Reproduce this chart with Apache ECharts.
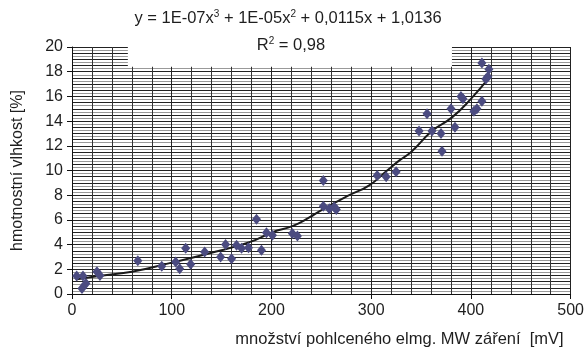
<!DOCTYPE html>
<html>
<head>
<meta charset="utf-8">
<script src="https://cdn.jsdelivr.net/npm/echarts@6/dist/echarts.min.js"></script>
<style>
  html, body { margin: 0; padding: 0; background: #fff; }
  #chart { width: 587px; height: 356px; }
</style>
</head>
<body>
<div id="chart"></div>
<script>
// měřené body
var measX = [4.7, 11, 10, 14, 25, 28, 66, 90, 104, 108, 114, 119, 133, 149, 154, 160, 165, 170, 177, 185, 190, 195, 201, 221, 226,
             252, 252, 258, 263, 265, 306, 315, 325,
             348, 356, 361, 370, 371, 380, 384, 390, 392, 403, 406, 411, 411, 418, 415, 417];
var measY = [1.45, 1.45, 0.45, 0.85, 1.8, 1.5, 2.7, 2.25, 2.6, 2.05, 3.7, 2.4, 3.4, 3.0, 4.0, 2.85, 3.95, 3.7, 3.75, 6.05, 3.55, 4.95, 4.75, 4.9, 4.7,
             9.2, 7.1, 6.9, 7.05, 6.85, 9.6, 9.5, 9.9,
             13.2, 14.6, 13.2, 13.0, 11.55, 15.0, 13.5, 16.0, 15.8, 14.8, 15.0, 15.6, 18.7, 18.2, 17.4, 17.6];
// spojnice trendu
var trendX = [5, 31, 60, 98, 138, 178, 201, 221, 238, 248, 278, 298, 316, 328, 340, 361, 381, 400, 418];
var trendY = [1.2, 1.5, 1.8, 2.5, 3.3, 4.2, 5.0, 5.5, 6.2, 6.7, 8.0, 8.8, 10.0, 10.8, 11.5, 13.2, 14.3, 15.8, 17.5];
var xTicks = [0, 100, 200, 300, 400, 500];
var yTicks = [0, 2, 4, 6, 8, 10, 12, 14, 16, 18, 20];

var chartElement = document.getElementById('chart');
var myChart = echarts.init(chartElement);

var scatterData = measX.map(function (x, i) { return [x, measY[i]]; });
var trendData = trendX.map(function (x, i) { return [x, trendY[i]]; });

var font = 'Liberation Sans, Arial, sans-serif';
var txt = '#1e1e1e';

option = {
    animation: false,
    grid: { left: 72, right: 15, top: 47, bottom: 62 },
    graphic: [{
        type: 'text',
        x: 288, y: 18,
        style: {
            text: '{n|y = 1E-07x}{s|3}{n| + 1E-05x}{s|2}{n| + 0,0115x + 1,0136}',
            rich: {
                n: { fontSize: 16.5, fontFamily: font, fill: txt, verticalAlign: 'bottom' },
                s: { fontSize: 10, fontFamily: font, fill: txt, verticalAlign: 'top' }
            },
            align: 'center', verticalAlign: 'middle'
        },
        z: 100
    }, {
        type: 'text',
        x: 291, y: 45,
        style: {
            text: '{n|R}{s|2}{n| = 0,98}',
            rich: {
                n: { fontSize: 16.5, fontFamily: font, fill: txt, verticalAlign: 'bottom' },
                s: { fontSize: 10, fontFamily: font, fill: txt, verticalAlign: 'top' }
            },
            align: 'center', verticalAlign: 'middle'
        },
        z: 100
    }],
    xAxis: {
        type: 'value',
        min: xTicks[0], max: xTicks[xTicks.length - 1], interval: 100,
        name: 'množství pohlceného elmg. MW záření  [mV]',
        nameLocation: 'end',
        nameGap: 0,
        nameTextStyle: { fontSize: 16.5, fontFamily: font, color: txt, align: 'right', verticalAlign: 'top', padding: [37, 7, 0, 0] },
        axisLine: { show: true, onZero: false, lineStyle: { color: '#111', width: 1 } },
        axisTick: { show: true, length: 5, lineStyle: { color: '#111' } },
        axisLabel: { fontSize: 16, fontFamily: font, color: txt, margin: 9 },
        splitLine: { show: true, lineStyle: { color: '#222', width: 1 } },
        minorTick: { show: false, splitNumber: 5 },
        minorSplitLine: { show: true, lineStyle: { color: '#333', width: 1 } }
    },
    yAxis: [{
        type: 'value',
        min: yTicks[0], max: yTicks[yTicks.length - 1], interval: 2,
        name: 'hmotnostní vlhkost [%]',
        nameLocation: 'middle',
        nameGap: 46,
        nameTextStyle: { fontSize: 16, fontFamily: font, color: txt },
        axisLine: { show: true, lineStyle: { color: '#111', width: 1 } },
        axisTick: { show: true, length: 5, lineStyle: { color: '#111' } },
        axisLabel: { fontSize: 16, fontFamily: font, color: txt, margin: 9 },
        splitLine: { show: false }
    }, {
        type: 'value',
        position: 'left',
        min: yTicks[0], max: yTicks[yTicks.length - 1], interval: 0.5,
        axisLine: { show: false },
        axisTick: { show: false },
        axisLabel: { show: false },
        splitLine: { show: true, lineStyle: { color: '#222', width: 1 } },
        minorTick: { show: false, splitNumber: 2 },
        minorSplitLine: { show: true, lineStyle: { color: '#999', width: 1 } }
    }],
    series: [{
        type: 'line',
        data: trendData,
        smooth: true,
        showSymbol: false,
        symbol: 'none',
        lineStyle: { color: '#1a1a1a', width: 2 },
        z: 3,
        markArea: {
            silent: true,
            itemStyle: { color: '#fff', opacity: 1 },
            data: [[{ coord: [56, 18.4] }, { coord: [381, 20] }]]
        }
    }, {
        type: 'scatter',
        data: scatterData,
        symbol: 'diamond',
        symbolSize: [9, 11],
        itemStyle: { color: '#4b4b80', opacity: 1 },
        z: 4
    }]
};
myChart.setOption(option);
</script>
</body>
</html>
